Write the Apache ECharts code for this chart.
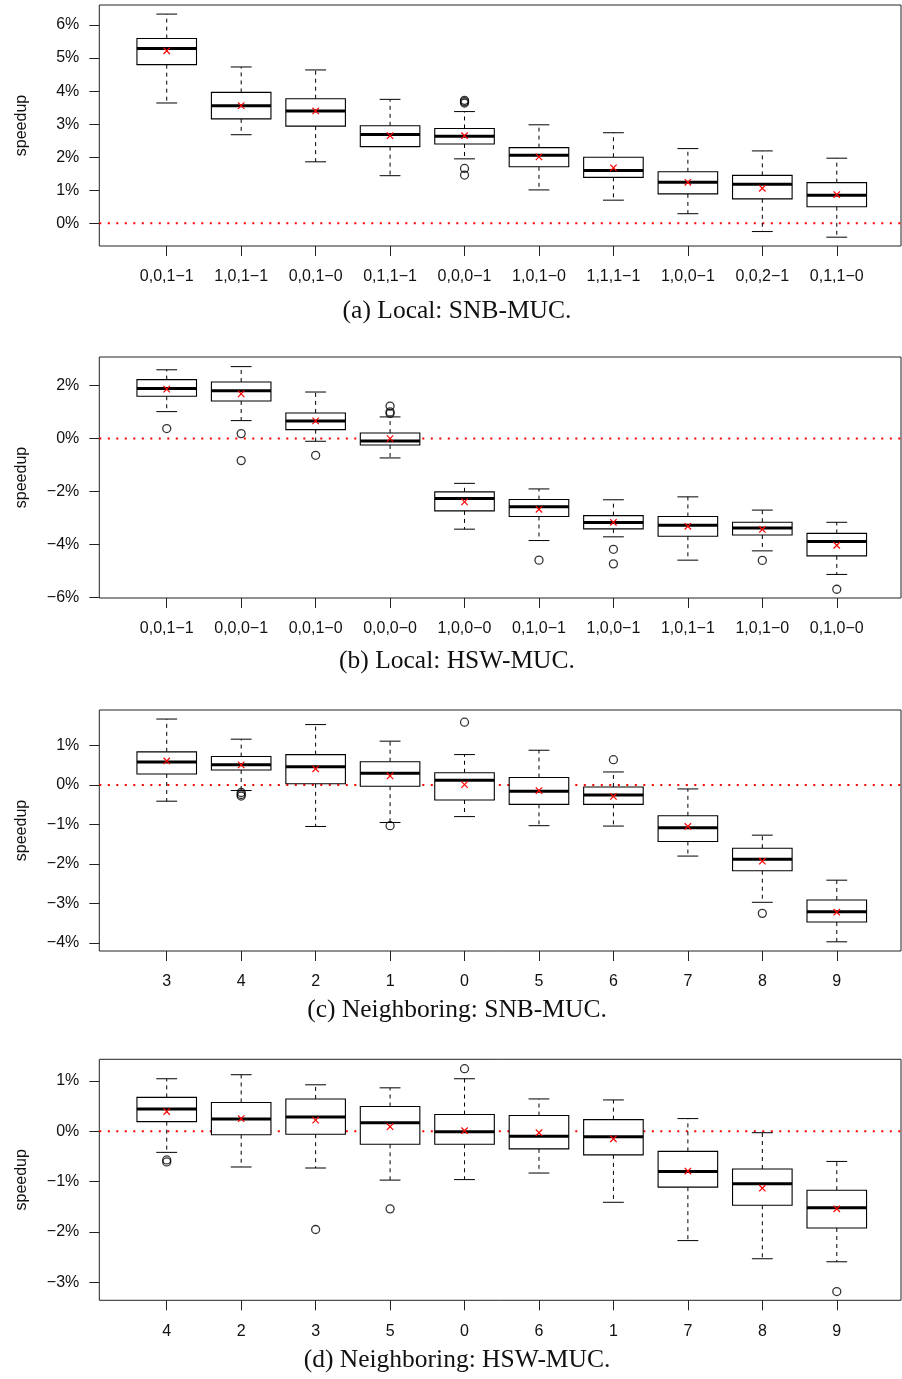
<!DOCTYPE html>
<html><head><meta charset="utf-8">
<script src="https://cdn.jsdelivr.net/npm/echarts@6/dist/echarts.min.js"></script>
<style>html,body{margin:0;padding:0;background:#fff}#c{width:902px;height:1379px}</style>
</head><body><div id="c"></div>
<script>
// ---- Panel (a) Local: SNB-MUC ----
const catsA = ['0,0,1−1','1,0,1−1','0,0,1−0','0,1,1−1','0,0,0−1','1,0,1−0','1,1,1−1','1,0,0−1','0,0,2−1','0,1,1−0'];
const lowA  = [3.64, 2.68, 1.86, 1.44, 1.95, 1.01, 0.70, 0.29, -0.25, -0.42];
const q1A   = [4.80, 3.16, 2.94, 2.32, 2.40, 1.71, 1.39, 0.89, 0.74, 0.50];
const medA  = [5.29, 3.56, 3.40, 2.69, 2.63, 2.06, 1.60, 1.24, 1.18, 0.85];
const q3A   = [5.59, 3.96, 3.77, 2.95, 2.87, 2.29, 2.00, 1.56, 1.45, 1.23];
const highA = [6.33, 4.73, 4.64, 3.75, 3.38, 2.98, 2.74, 2.26, 2.19, 1.97];
const meanA = [5.22, 3.56, 3.40, 2.65, 2.65, 2.01, 1.68, 1.24, 1.06, 0.87];
const outA  = [[4, 3.72], [4, 3.68], [4, 3.64], [4, 1.66], [4, 1.46]];
const ticksA = [0, 1, 2, 3, 4, 5, 6];

// ---- Panel (b) Local: HSW-MUC ----
const catsB = ['0,0,1−1','0,0,0−1','0,0,1−0','0,0,0−0','1,0,0−0','0,1,0−1','1,0,0−1','1,0,1−1','1,0,1−0','0,1,0−0'];
const lowB  = [1.02, 0.68, -0.10, -0.73, -3.42, -3.85, -3.71, -4.59, -4.24, -5.13];
const q1B   = [1.60, 1.42, 0.34, -0.24, -2.73, -2.94, -3.41, -3.69, -3.64, -4.43];
const medB  = [1.89, 1.81, 0.67, -0.09, -2.26, -2.57, -3.17, -3.27, -3.38, -3.89];
const q3B   = [2.23, 2.14, 0.97, 0.21, -2.01, -2.30, -2.91, -2.94, -3.16, -3.58];
const highB = [2.60, 2.72, 1.76, 0.82, -1.69, -1.90, -2.31, -2.20, -2.70, -3.16];
const meanB = [1.87, 1.69, 0.67, 0.00, -2.39, -2.67, -3.16, -3.31, -3.43, -4.03];
const outB  = [[0, 0.38], [1, 0.19], [1, -0.83], [2, -0.63], [3, 1.23], [3, 1.01], [3, 0.95],
               [5, -4.59], [6, -4.18], [6, -4.73], [8, -4.60], [9, -5.69]];
const ticksB = [-6, -4, -2, 0, 2];

// ---- Panel (c) Neighboring: SNB-MUC ----
const catsC = ['3','4','2','1','0','5','6','7','8','9'];
const lowC  = [-0.41, -0.14, -1.05, -0.95, -0.80, -1.03, -1.04, -1.80, -2.97, -3.97];
const q1C   = [0.28, 0.38, 0.03, -0.03, -0.38, -0.49, -0.49, -1.43, -2.17, -3.47];
const medC  = [0.58, 0.51, 0.46, 0.30, 0.12, -0.16, -0.25, -1.08, -1.88, -3.21];
const q3C   = [0.84, 0.72, 0.77, 0.59, 0.31, 0.19, -0.05, -0.78, -1.60, -2.91];
const highC = [1.67, 1.16, 1.53, 1.11, 0.77, 0.88, 0.33, -0.10, -1.27, -2.41];
const meanC = [0.61, 0.51, 0.41, 0.23, 0.01, -0.14, -0.29, -1.05, -1.93, -3.22];
const outC  = [[1, -0.19], [1, -0.24], [1, -0.28], [3, -1.03], [4, 1.59], [6, 0.64], [8, -3.25]];
const ticksC = [-4, -3, -2, -1, 0, 1];

// ---- Panel (d) Neighboring: HSW-MUC ----
const catsD = ['4','2','3','5','0','6','1','7','8','9'];
const lowD  = [-0.42, -0.71, -0.73, -0.97, -0.96, -0.83, -1.41, -2.17, -2.53, -2.59];
const q1D   = [0.19, -0.07, -0.06, -0.26, -0.26, -0.35, -0.47, -1.11, -1.47, -1.92];
const medD  = [0.44, 0.24, 0.28, 0.17, -0.01, -0.10, -0.11, -0.80, -1.04, -1.52];
const q3D   = [0.67, 0.57, 0.64, 0.49, 0.33, 0.31, 0.23, -0.40, -0.75, -1.17];
const highD = [1.04, 1.12, 0.92, 0.86, 1.04, 0.64, 0.62, 0.25, -0.03, -0.60];
const meanD = [0.39, 0.25, 0.22, 0.09, 0.01, -0.03, -0.15, -0.79, -1.13, -1.54];
const outD  = [[0, -0.57], [0, -0.61], [2, -1.95], [3, -1.54], [4, 1.24], [9, -3.18]];
const ticksD = [-3, -2, -1, 0, 1];

const captions = ['(a) Local: SNB-MUC.', '(b) Local: HSW-MUC.', '(c) Neighboring: SNB-MUC.', '(d) Neighboring: HSW-MUC.'];

const panels = [
  {cats: catsA, low: lowA, q1: q1A, med: medA, q3: q3A, high: highA, mean: meanA, out: outA, ticks: ticksA, min: -0.687, max: 6.605, top: 5, cap: 311},
  {cats: catsB, low: lowB, q1: q1B, med: medB, q3: q3B, high: highB, mean: meanB, out: outB, ticks: ticksB, min: -6.02, max: 3.083, top: 357, cap: 661},
  {cats: catsC, low: lowC, q1: q1C, med: medC, q3: q3C, high: highC, mean: meanC, out: outC, ticks: ticksC, min: -4.203, max: 1.899, top: 710, cap: 1010},
  {cats: catsD, low: lowD, q1: q1D, med: medD, q3: q3D, high: highD, mean: meanD, out: outD, ticks: ticksD, min: -3.354, max: 1.426, top: 1059.3, cap: 1360}
];

const PH = 241;
const FONT = 'Liberation Sans';
const fmtPct = v => (v < 0 ? '−' + Math.abs(v) : String(v)) + '%';

function renderBox(params, api) {
  const i = api.value(0);
  const band = api.size([1, 0])[0];
  const half = band * 0.4, capHalf = band * 0.14;
  const pl = api.coord([i, api.value(1)]);
  const p1 = api.coord([i, api.value(2)]);
  const pm = api.coord([i, api.value(3)]);
  const p3 = api.coord([i, api.value(4)]);
  const ph = api.coord([i, api.value(5)]);
  const pmean = api.coord([i, api.value(6)]);
  const x = pl[0];
  const dash = {stroke: '#000', lineWidth: 1, lineDash: [4, 4]};
  const solid = {stroke: '#000', lineWidth: 1};
  const red = {stroke: '#f00', lineWidth: 1.2};
  const m = 3.2;
  return {
    type: 'group',
    children: [
      {type: 'line', shape: {x1: x, y1: p3[1], x2: x, y2: ph[1]}, style: dash},
      {type: 'line', shape: {x1: x, y1: p1[1], x2: x, y2: pl[1]}, style: dash},
      {type: 'line', shape: {x1: x - capHalf, y1: ph[1], x2: x + capHalf, y2: ph[1]}, style: solid},
      {type: 'line', shape: {x1: x - capHalf, y1: pl[1], x2: x + capHalf, y2: pl[1]}, style: solid},
      {type: 'rect', shape: {x: x - half, y: p3[1], width: 2 * half, height: p1[1] - p3[1]},
        style: {fill: '#fff', stroke: '#000', lineWidth: 1.1}},
      {type: 'line', shape: {x1: x - half, y1: pm[1], x2: x + half, y2: pm[1]}, style: {stroke: '#000', lineWidth: 3}},
      {type: 'line', shape: {x1: pmean[0] - m, y1: pmean[1] - m, x2: pmean[0] + m, y2: pmean[1] + m}, style: red},
      {type: 'line', shape: {x1: pmean[0] - m, y1: pmean[1] + m, x2: pmean[0] + m, y2: pmean[1] - m}, style: red}
    ]
  };
}

const option = {
  animation: false,
  backgroundColor: '#fff',
  grid: [], xAxis: [], yAxis: [], series: [],
  graphic: []
};

panels.forEach((p, k) => {
  const gOuter = 2 * k, gInner = 2 * k + 1;
  option.grid.push({left: 99.3, right: 1, top: p.top, height: PH, show: true, borderColor: '#222', borderWidth: 1, backgroundColor: 'transparent'});
  option.grid.push({left: 129.5, right: 28, top: p.top, height: PH});
  // outer (frame + reference line)
  option.xAxis.push({type: 'value', gridIndex: gOuter, min: 0, max: 1, show: false});
  option.yAxis.push({type: 'value', gridIndex: gOuter, min: p.min, max: p.max, show: false});
  // inner (data)
  option.xAxis.push({
    type: 'category', gridIndex: gInner, data: p.cats, boundaryGap: true, position: 'bottom',
    axisLine: {show: false, onZero: false},
    axisTick: {show: true, alignWithLabel: true, inside: false, length: 10, lineStyle: {color: '#222', width: 1}},
    axisLabel: {margin: 23, fontSize: 16, fontFamily: FONT, color: '#111', interval: 0},
    splitLine: {show: false}
  });
  option.yAxis.push({
    type: 'value', gridIndex: gInner, min: p.min, max: p.max, offset: 30.2,
    axisLine: {show: false, onZero: false},
    axisTick: {show: true, length: 10, customValues: p.ticks, lineStyle: {color: '#222', width: 1}},
    axisLabel: {customValues: p.ticks, margin: 20, fontSize: 16, fontFamily: FONT, color: '#111', formatter: fmtPct},
    splitLine: {show: false},
    name: 'speedup', nameLocation: 'middle', nameGap: 70, nameRotate: 90,
    nameTextStyle: {fontSize: 16, fontFamily: FONT, color: '#111'}
  });
  option.series.push({
    type: 'line', xAxisIndex: gOuter, yAxisIndex: gOuter, data: [[0, 0], [1, 0]],
    symbol: 'none', silent: true, z: 1,
    lineStyle: {color: '#f00', width: 2, type: [2, 6.5]}
  });
  option.series.push({
    type: 'custom', xAxisIndex: gInner, yAxisIndex: gInner, z: 3,
    renderItem: renderBox,
    encode: {x: 0, y: [1, 2, 3, 4, 5, 6]},
    data: p.cats.map((c, i) => [i, p.low[i], p.q1[i], p.med[i], p.q3[i], p.high[i], p.mean[i]])
  });
  option.series.push({
    type: 'scatter', xAxisIndex: gInner, yAxisIndex: gInner, z: 4,
    symbol: 'circle', symbolSize: 8,
    itemStyle: {color: 'rgba(0,0,0,0)', borderColor: '#000', borderWidth: 1.3},
    data: p.out
  });
  option.graphic.push({
    type: 'text', x: 457, y: p.cap,
    style: {text: captions[k], font: '25.5px "Liberation Serif"', fill: '#111', textAlign: 'center', verticalAlign: 'middle', textVerticalAlign: 'middle'}
  });
});

const chart = echarts.init(document.getElementById('c'), null, {renderer: 'canvas'});
chart.setOption(option);
</script>
</body></html>
